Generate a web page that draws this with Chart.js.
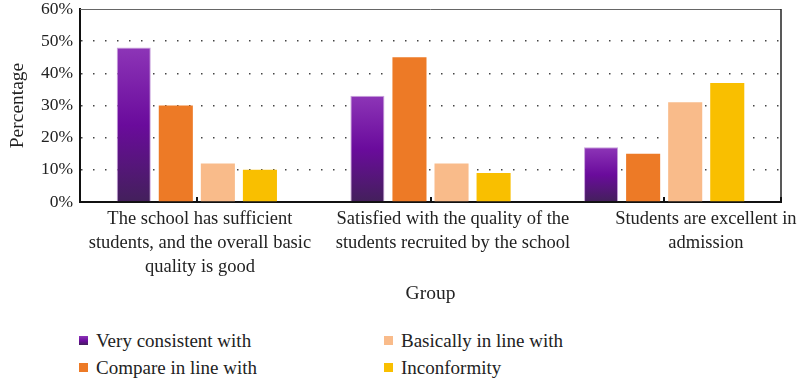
<!DOCTYPE html>
<html>
<head>
<meta charset="utf-8">
<script src="https://cdn.jsdelivr.net/npm/chart.js@4.4.1/dist/chart.umd.min.js"></script>
<style>
  body { margin: 0; background: #fff; font-family: "Liberation Serif", serif; }
  #wrap { position: relative; width: 798px; height: 381px; }
  #chart { position: absolute; left: 0; top: 0; }
  #legend {
    position: absolute; left: 79px; top: 327px;
    display: grid; grid-auto-flow: column;
    grid-template-columns: 305px 300px; grid-template-rows: 27px 27px;
    font-size: 19px; color: #222;
  }
  .item { display: flex; align-items: center; }
  .box { width: 9px; height: 9px; margin-right: 8px; }
</style>
</head>
<body>
<div id="wrap">
  <canvas id="chart" width="798" height="310"></canvas>
  <div id="legend"></div>
</div>
<script>
const groups = [
  ['The school has sufficient', 'students, and the overall basic', 'quality is good'],
  ['Satisfied with the quality of the', 'students recruited by the school'],
  ['Students are excellent in', 'admission']
];
const seriesNames = ['Very consistent with', 'Compare in line with', 'Basically in line with', 'Inconformity'];
const veryConsistent = [48, 33, 17];
const compareInLine = [30, 45, 15];
const basicallyInLine = [12, 12, 31];
const inconformity = [10, 9, 37];
const yTicks = [0, 10, 20, 30, 40, 50, 60];
// group captions sit a little right of their bar groups, on a wider spacing
const captionPos = [0, 1, 2];
const captionRange = { min: -0.474, max: 2.297 };

const SERIF = '"Liberation Serif", serif';
const TEXT = '#222';

// purple bars fade from light violet at the top to a dark plum at the base
function purpleFill(c) {
  const chart = c.chart;
  const ys = chart.scales.y;
  if (!chart.chartArea || !ys || c.raw == null) return '#6c0b9e';
  const top = ys.getPixelForValue(c.raw);
  const base = ys.getPixelForValue(0);
  const g = chart.ctx.createLinearGradient(0, top, 0, base);
  g.addColorStop(0, '#8d35b7');
  g.addColorStop(0.5, '#6a0b9c');
  g.addColorStop(1, '#43205b');
  return g;
}

// top/right frame lines and the small inside ticks on the x axis
const frame = {
  id: 'frame',
  afterDraw(chart) {
    const { ctx, chartArea: a } = chart;
    const xs = chart.scales.x;
    ctx.save();
    ctx.strokeStyle = '#666';
    ctx.lineWidth = 1;
    ctx.beginPath();
    ctx.moveTo(a.left, a.top + 0.5);
    ctx.lineTo(a.right, a.top + 0.5);
    ctx.stroke();
    ctx.strokeStyle = '#222';
    ctx.lineWidth = 1.5;
    ctx.beginPath();
    ctx.moveTo(a.right, a.top);
    ctx.lineTo(a.right, a.bottom);
    ctx.stroke();
    ctx.fillStyle = '#111';
    for (let i = 0; i < xs.ticks.length; i++) {
      const px = Math.round(xs.getPixelForTick(i));
      ctx.fillRect(px - 1, a.bottom - 5, 2, 5);
    }
    ctx.fillRect(a.right - 1, a.bottom - 5, 2, 5);
    ctx.restore();
  }
};

const chart = new Chart(document.getElementById('chart'), {
  type: 'bar',
  data: {
    labels: groups.map(g => g.join(' ')),
    datasets: [
      { label: seriesNames[0], data: veryConsistent, backgroundColor: purpleFill, borderColor: '#c9a2dc', borderWidth: 1 },
      { label: seriesNames[1], data: compareInLine, backgroundColor: '#ed7a26' },
      { label: seriesNames[2], data: basicallyInLine, backgroundColor: '#f9bb8a' },
      { label: seriesNames[3], data: inconformity, backgroundColor: '#f9bf00' }
    ]
  },
  options: {
    responsive: false,
    animation: false,
    categoryPercentage: 0.72,
    barPercentage: 0.81,
    layout: { padding: { top: 9, right: 17, bottom: 0, left: 0 } },
    plugins: { legend: { display: false }, tooltip: { enabled: false } },
    scales: {
      x: {
        grid: { display: false, drawTicks: false },
        border: { display: true, color: '#111', width: 2 },
        ticks: { display: false },
        afterFit(s) { s.height = 0; s.paddingLeft = 0; s.paddingRight = 0; }
      },
      captions: {
        type: 'linear',
        position: 'bottom',
        offset: false,
        min: captionRange.min, max: captionRange.max,
        afterBuildTicks(s) { s.ticks = captionPos.map(v => ({ value: v })); },
        grid: { display: false, drawTicks: false },
        border: { display: false },
        ticks: {
          font: { family: SERIF, size: 18.5, lineHeight: 1.3 }, color: TEXT,
          padding: 5, maxRotation: 0, autoSkip: false,
          callback: (v, i) => groups[i]
        },
        title: { display: true, text: 'Group', font: { family: SERIF, size: 19.5 }, color: TEXT, padding: { top: 0, bottom: 4 } },
        afterFit(s) { s.height = 108; s.paddingLeft = 0; s.paddingRight = 0; }
      },
      y: {
        min: 0, max: 60,
        afterBuildTicks(s) { s.ticks = yTicks.map(v => ({ value: v })); },
        ticks: { font: { family: SERIF, size: 17.5 }, color: TEXT, padding: 7, callback: v => v + '%' },
        grid: {
          drawTicks: false,
          color: c => (c.tick && (c.tick.value === 0 || c.tick.value === 60)) ? 'rgba(0,0,0,0)' : '#444',
          lineWidth: 1.5
        },
        border: { display: true, color: '#111', width: 2, dash: [1.5, 10.5] },
        title: { display: true, text: 'Percentage', font: { family: SERIF, size: 19.5 }, color: TEXT, padding: { top: 6, bottom: 4 } },
        afterFit(s) { s.width = 80; s.paddingTop = 0; s.paddingBottom = 0; }
      }
    }
  },
  plugins: [frame]
});

// two-column legend, filled column by column
const legendEl = document.getElementById('legend');
const swatches = ['linear-gradient(#8d35b7, #6a0b9c 55%, #43205b)', '#ed7a26', '#f9bb8a', '#f9bf00'];
seriesNames.forEach((name, i) => {
  const item = document.createElement('div');
  item.className = 'item';
  const box = document.createElement('span');
  box.className = 'box';
  box.style.background = swatches[i];
  item.appendChild(box);
  item.appendChild(document.createTextNode(name));
  legendEl.appendChild(item);
});
</script>
</body>
</html>
